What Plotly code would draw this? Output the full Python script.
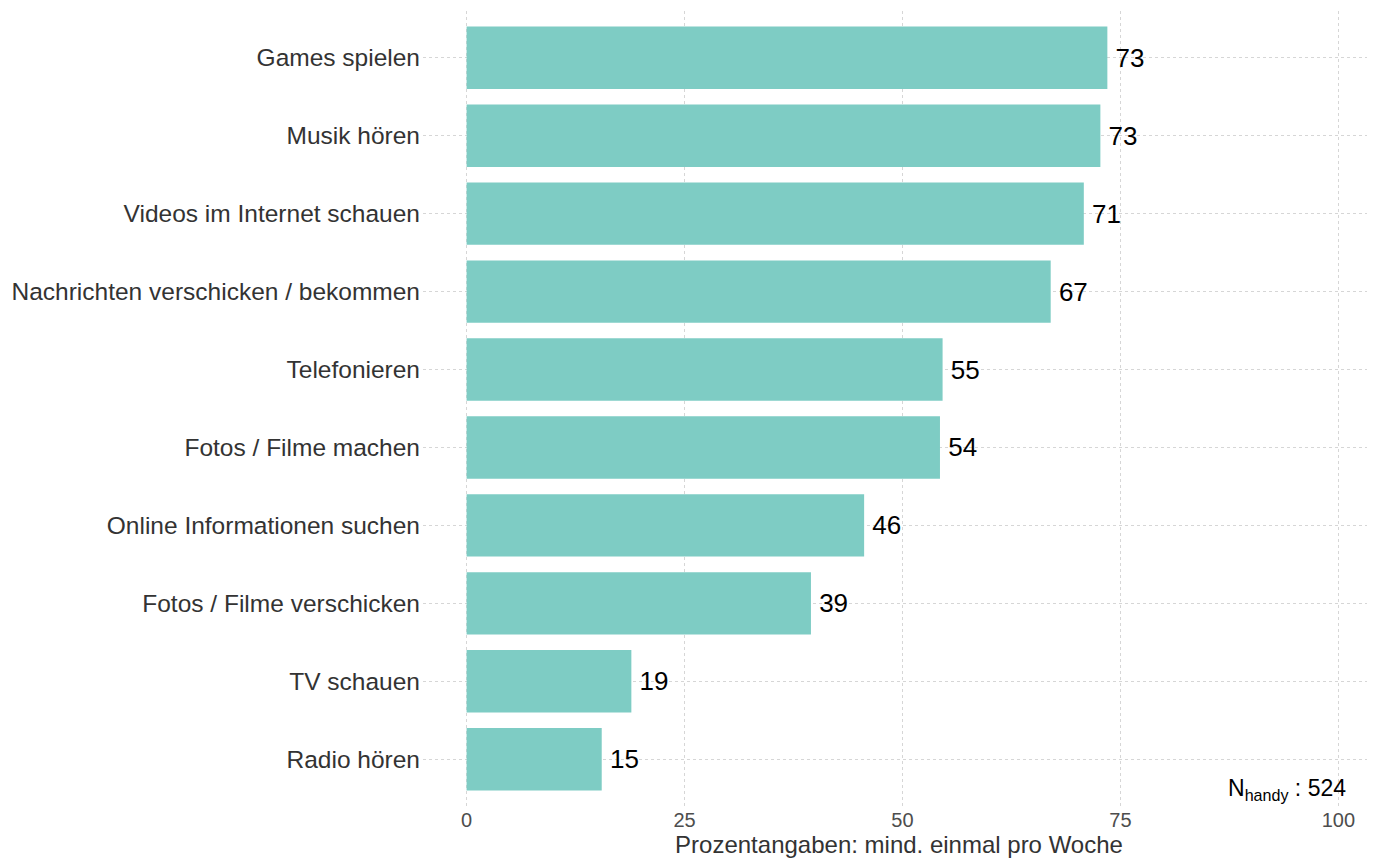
import plotly.graph_objects as go

categories = ["Games spielen", "Musik hören", "Videos im Internet schauen",
              "Nachrichten verschicken / bekommen", "Telefonieren", "Fotos / Filme machen",
              "Online Informationen suchen", "Fotos / Filme verschicken", "TV schauen", "Radio hören"]
values = [73.5, 72.7, 70.8, 67.0, 54.6, 54.3, 45.6, 39.5, 18.9, 15.5]
labels = ["73", "73", "71", "67", "55", "54", "46", "39", "19", "15"]
x_ticks = [0, 25, 50, 75, 100]
n_text = "N<sub>handy</sub> : 524"

font_family = "Arial, Liberation Sans, sans-serif"

fig = go.Figure(go.Bar(
    x=values[::-1], y=categories[::-1], orientation="h",
    marker=dict(color="#7ECCC4", line=dict(width=0)),
    width=0.8,
    text=labels[::-1], textposition="outside", texttemplate="\u2009%{text}",
    textfont=dict(size=26, color="black", family=font_family),
    cliponaxis=False,
))

fig.update_layout(
    width=1367, height=853,
    margin=dict(l=415, r=0, t=3, b=55),
    plot_bgcolor="white", paper_bgcolor="white",
    font=dict(family=font_family),
    showlegend=False,
    xaxis=dict(range=[-5, 104.2], tickvals=x_ticks, ticktext=[str(t) for t in x_ticks],
               showgrid=True, gridcolor="#d6d6d6", griddash="dot", gridwidth=1,
               zeroline=False, showline=False, ticks="",
               tickfont=dict(size=20, color="#4d4d4d"),
               title=dict(text="Prozentangaben: mind. einmal pro Woche",
                          font=dict(size=24, color="#333333"), standoff=0)),
    yaxis=dict(range=[-0.6, 9.6], showgrid=True, gridcolor="#d6d6d6", griddash="dot", gridwidth=1,
               zeroline=False, showline=False, ticks="", ticklabelstandoff=2,
               tickfont=dict(size=24.5, color="#333333")),
    annotations=[dict(text=n_text, x=1, xref="paper", xanchor="right",
                      y=0.0, yref="paper", yanchor="bottom", xshift=-27, yshift=0,
                      showarrow=False, font=dict(size=23, color="black", family=font_family))],
    bargap=0.2,
)

fig.write_html("out.html")
